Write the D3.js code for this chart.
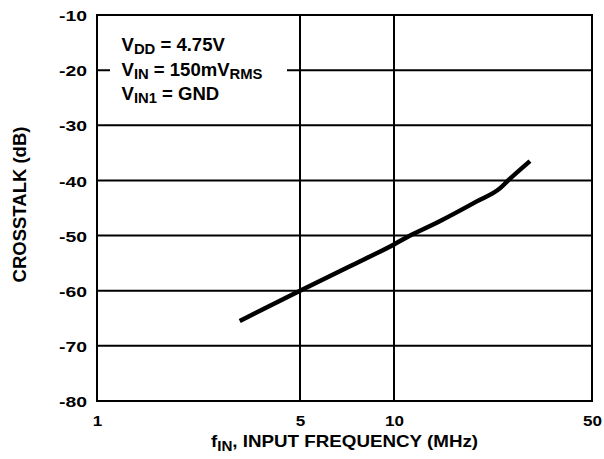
<!DOCTYPE html>
<html>
<head>
<meta charset="utf-8">
<script src="https://cdn.jsdelivr.net/npm/d3@7"></script>
<style>
  body { margin: 0; background: #fff; }
  text { font-family: "Liberation Sans", Arial, Helvetica, sans-serif; font-weight: bold; fill: #000; }
</style>
</head>
<body>
<script>
// axis ticks
var freqTicks = [1, 5, 10, 50];
var dbTicks = [-10, -20, -30, -40, -50, -60, -70, -80];

// crosstalk curve
var freqMHz = [3.1, 5, 7.2, 10, 11.4, 14.5, 19.6, 23.7, 25.3, 30.2];
var crosstalkDb = [-65.5, -60, -55.6, -51.6, -50, -47.4, -43.8, -41.4, -40, -36.5];

var width = 604, height = 459;
var plotL = 97, plotR = 592, plotT = 15, plotB = 401;

var svg = d3.select("body").append("svg").attr("width", width).attr("height", height);

// the printed log axis isn't quite even, so pin the labelled decades
var x = d3.scaleLog().domain([1, 5, 10, 50]).range([plotL, 300, 394, plotR]);
var y = d3.scaleLinear().domain([-80, -10]).range([plotB, plotT]);

// plain hyphen for negatives, like the datasheet
function plain(d) { return String(d); }

// grid
svg.selectAll("line.hgrid")
    .data(dbTicks.slice(1, -1))
    .enter().append("line")
    .attr("class", "hgrid")
    .attr("x1", plotL).attr("x2", plotR)
    .attr("y1", function (d) { return y(d); })
    .attr("y2", function (d) { return y(d); })
    .attr("stroke", "#000").attr("stroke-width", 2);

svg.selectAll("line.vgrid")
    .data(freqTicks.slice(1, -1))
    .enter().append("line")
    .attr("class", "vgrid")
    .attr("y1", plotT).attr("y2", plotB)
    .attr("x1", function (d) { return x(d); })
    .attr("x2", function (d) { return x(d); })
    .attr("stroke", "#000").attr("stroke-width", 2);

// frame
svg.append("rect")
    .attr("x", plotL).attr("y", plotT)
    .attr("width", plotR - plotL).attr("height", plotB - plotT)
    .attr("fill", "none").attr("stroke", "#000").attr("stroke-width", 2);

// tick labels (lettering is a bit wider than Arial, hence the scale)
var yAxis = svg.append("g")
    .attr("transform", "translate(" + (plotL - 10) + ",0)")
    .call(d3.axisLeft(y).tickValues(dbTicks).tickFormat(plain).tickSize(0).tickPadding(0));
yAxis.select(".domain").remove();
yAxis.selectAll("text")
    .style("font-size", "15.5px")
    .attr("dy", "0.36em")
    .attr("transform", "scale(1.25,1)");

var xAxis = svg.append("g")
    .attr("transform", "translate(0," + (plotB + 14) + ")")
    .call(d3.axisBottom(x).tickValues(freqTicks).tickFormat(plain).tickSize(0).tickPadding(0));
xAxis.select(".domain").remove();
xAxis.selectAll("text")
    .style("font-size", "15.5px")
    .attr("dy", "0.71em")
    .attr("transform", "scale(1.1,1)");

// curve
var line = d3.line()
    .curve(d3.curveMonotoneX)
    .x(function (d, i) { return x(freqMHz[i]); })
    .y(function (d) { return y(d); });

svg.append("path")
    .datum(crosstalkDb)
    .attr("d", line)
    .attr("fill", "none")
    .attr("stroke", "#000")
    .attr("stroke-width", 4.5);

// conditions box
svg.append("rect")
    .attr("x", 110).attr("y", 30)
    .attr("width", 177).attr("height", 76)
    .attr("fill", "#fff");

var notes = [
    [["V", 0], ["DD", 1], [" = 4.75V", 0]],
    [["V", 0], ["IN", 1], [" = 150mV", 0], ["RMS", 1]],
    [["V", 0], ["IN1", 1], [" = GND", 0]]
];

notes.forEach(function (parts, i) {
    var t = svg.append("text")
        .attr("transform", "translate(121.5," + (51 + i * 24.5) + ") scale(1.06,1)")
        .style("font-size", "17.5px");
    parts.forEach(function (p, j) {
        var s = t.append("tspan").text(p[0]);
        if (p[1]) s.attr("dy", 3).style("font-size", "14px");
        else if (j > 0 && parts[j - 1][1]) s.attr("dy", -3);
    });
});

// axis titles
svg.append("text")
    .attr("transform", "translate(26," + 204.5 + ") rotate(-90)")
    .attr("text-anchor", "middle")
    .style("font-size", "18.5px")
    .text("CROSSTALK (dB)");

var xt = svg.append("text")
    .attr("transform", "translate(" + ((plotL + plotR) / 2) + ",447) scale(1.085,1)")
    .attr("text-anchor", "middle")
    .style("font-size", "17.3px");
xt.append("tspan").text("f");
xt.append("tspan").attr("dy", 4).style("font-size", "14px").text("IN");
xt.append("tspan").attr("dy", -4).text(", INPUT FREQUENCY (MHz)");
</script>
</body>
</html>
